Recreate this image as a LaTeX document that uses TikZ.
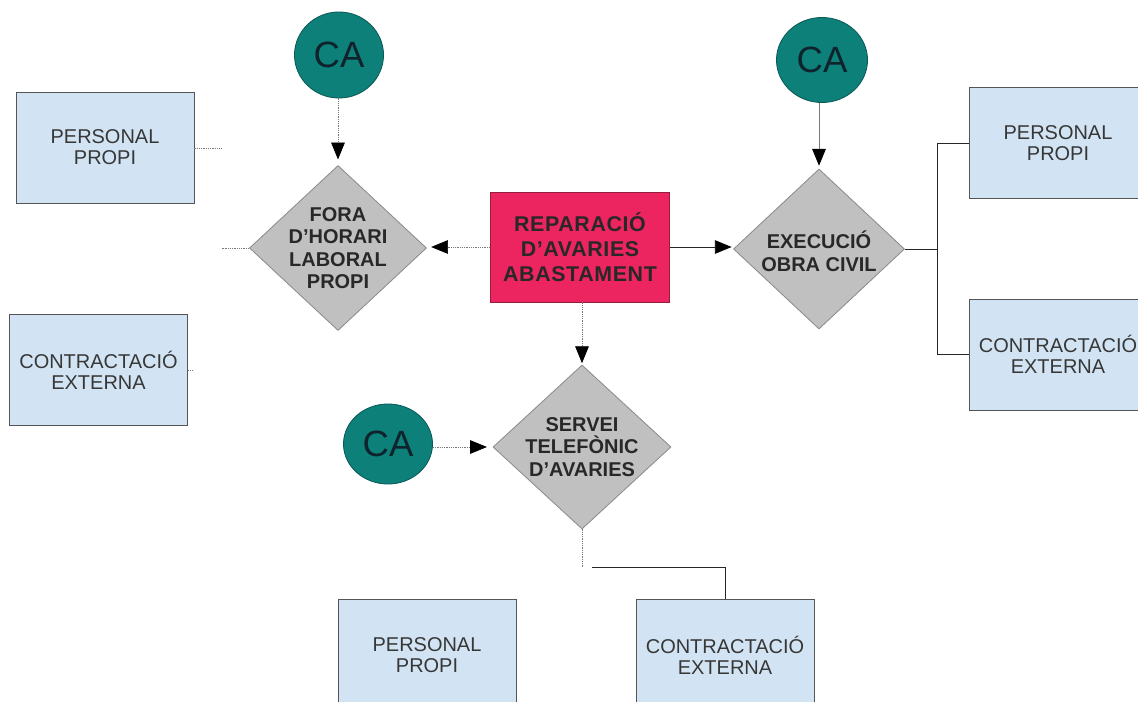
\documentclass[tikz,border=0pt]{standalone}
\usepackage{fontspec}
\setmainfont{Liberation Sans}
\usetikzlibrary{shapes.geometric,arrows.meta}

\definecolor{boxfill}{RGB}{210,228,243}
\definecolor{boxedge}{RGB}{85,85,85}
\definecolor{diafill}{RGB}{192,192,192}
\definecolor{diaedge}{RGB}{140,140,140}
\definecolor{redfill}{RGB}{236,36,96}
\definecolor{rededge}{RGB}{150,30,60}
\definecolor{tealfill}{RGB}{14,128,122}
\definecolor{tealedge}{RGB}{10,90,86}
\definecolor{boxtext}{RGB}{55,55,55}
\definecolor{diatext}{RGB}{40,40,40}
\definecolor{catext}{RGB}{15,35,45}
\definecolor{stubgray}{RGB}{120,120,120}

\begin{document}
\begin{tikzpicture}[x=0.025cm,y=-0.025cm,
  resbox/.style={draw=boxedge,fill=boxfill,line width=0.6pt,
    minimum width=4.45cm,minimum height=2.775cm,inner sep=0pt,
    align=center,text=boxtext,font=\fontsize{14.2}{15}\selectfont},
  mainbox/.style={draw=rededge,fill=redfill,line width=0.6pt,
    minimum width=4.475cm,minimum height=2.75cm,inner sep=0pt,
    align=center,text=diatext,
    font=\fontsize{15.2}{17.8}\selectfont\bfseries\addfontfeature{LetterSpace=3}},
  decision/.style={diamond,draw=diaedge,fill=diafill,line width=0.6pt,
    inner sep=0pt},
  dtext/.style={align=center,text=diatext,inner sep=0pt,
    font=\fontsize{14.2}{16}\selectfont\bfseries},
  origin/.style={ellipse,draw=tealedge,fill=tealfill,line width=0.6pt,
    inner sep=0pt,text=catext,font=\fontsize{26}{28}\selectfont},
  tip/.style={-{Triangle[length=0.42cm,width=0.34cm,color=black]}},
  dotline/.style={draw=stubgray,line width=0.5pt,dash pattern=on 0.8pt off 0.8pt},
  solidline/.style={draw=black!85,line width=0.6pt},
  greyline/.style={draw=stubgray,line width=0.6pt}
]
\useasboundingbox (0,0) rectangle (1138,702);
\clip (0,0) rectangle (1138,702);

% central task
\node[mainbox] (rep) at (580,247) {REPARACIÓ\\D'AVARIES\\ABASTAMENT};

% decision points
\node[decision,minimum width=4.425cm,minimum height=4.125cm,
  label={[dtext]center:FORA\\D'HORARI\\LABORAL\\PROPI}] (d1) at (338,248) {};
\node[decision,minimum width=4.275cm,minimum height=4.0cm,
  label={[dtext,yshift=-0.05cm]center:EXECUCIÓ\\OBRA CIVIL}] (d2) at (819,249) {};
\node[decision,minimum width=4.45cm,minimum height=4.1cm,
  label={[dtext]center:SERVEI\\TELEFÒNIC\\D'AVARIES}] (d3) at (582,447) {};

% CA entry points
\node[origin,minimum width=2.225cm,minimum height=2.15cm] (ca1) at (339,55) {CA};
\node[origin,minimum width=2.275cm,minimum height=2.125cm] (ca2) at (822,60) {CA};
\node[origin,minimum width=2.225cm,minimum height=2.0cm] (ca3) at (388,444) {CA};

% resource boxes
\node[resbox] (pp1) at (105,147.5) {PERSONAL\\PROPI};
\node[resbox] (ce1) at (98.5,370) {CONTRACTACIÓ\\EXTERNA};
\node[resbox] (pp2) at (1058,143) {PERSONAL\\PROPI};
\node[resbox] (ce2) at (1058,354.5) {CONTRACTACIÓ\\EXTERNA};
\node[resbox] (pp3) at (427,655) {PERSONAL\\PROPI};
\node[resbox] (ce3) at (725,655) {CONTRACTACIÓ\\EXTERNA};

% junction points
\coordinate (s1) at (222,148);
\coordinate (s2) at (222,248);
\coordinate (s3) at (193,370);
\coordinate (j2) at (937,249);
\coordinate (b1) at (582,567);
\coordinate (b2) at (592,567);

% flows from the CA points
\draw[dotline,tip,shorten >=4pt] (ca1.south -| d1.north) -- (d1.north);
\draw[greyline,tip,shorten >=2pt] (ca2.south -| d2.north) -- (d2.north);
\draw[dotline,tip,shorten >=4pt] (ca3.east |- d3.west) -- (d3.west);

% flows from the central task
\draw[dotline,tip,shorten >=3pt] (rep.west) -- (d1.east |- rep.west);
\draw[solidline,tip,shorten >=1pt] (rep.east) -- (d2.west |- rep.east);
\draw[dotline,tip,shorten >=1pt] (rep.south -| d3.north) -- (d3.north);

% resource links
\draw[dotline] (pp1.east |- s1) -- (s1);
\draw[dotline] (d1.west) -- (s2);
\draw[dotline] (ce1.east) -- (s3);
\draw[solidline] (d2.east) -- (j2);
\draw[solidline] (pp2.west) -| (j2) |- (ce2.west);
\draw[dotline] (d3.south) -- (b1);
\draw[solidline] (b2) -| (ce3.north);
\end{tikzpicture}
\end{document}
